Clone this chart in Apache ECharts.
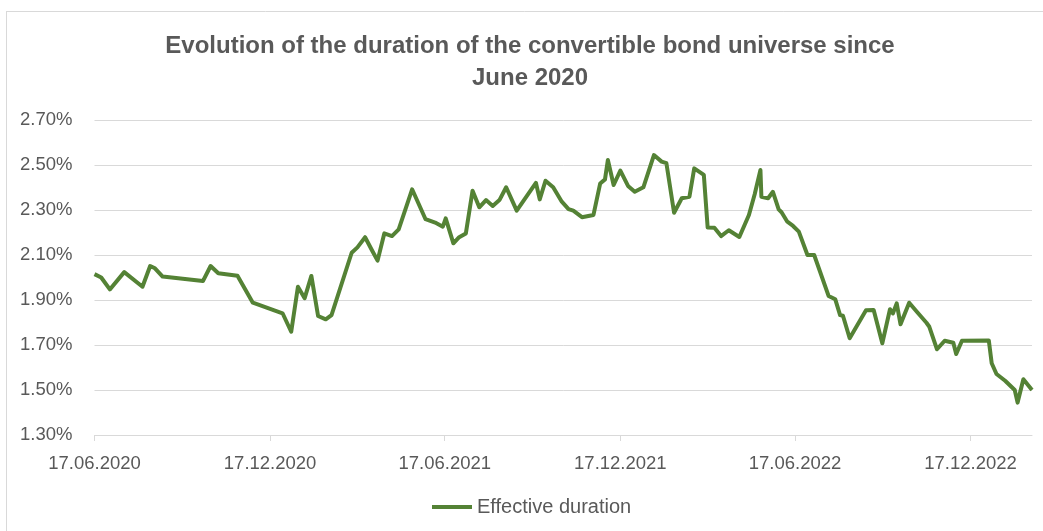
<!DOCTYPE html>
<html>
<head>
<meta charset="utf-8">
<script src="https://cdn.jsdelivr.net/npm/echarts@6/dist/echarts.min.js"></script>
<style>
html,body{margin:0;padding:0;background:#fff;}
#chart{width:1043px;height:531px;}
</style>
</head>
<body>
<div id="chart"></div>
<script>
var titleText = 'Evolution of the duration of the convertible bond universe since\nJune 2020';
var seriesName = 'Effective duration';
var tickDates = ['2020-06-17','2020-12-17','2021-06-17','2021-12-17','2022-06-17','2022-12-17'];
var dates = [
'2020-06-17','2020-06-24','2020-07-03','2020-07-18','2020-08-06','2020-08-14','2020-08-19','2020-08-27',
'2020-10-08','2020-10-16','2020-10-24','2020-11-13','2020-11-29','2020-12-30',
'2021-01-08','2021-01-15','2021-01-22','2021-01-29','2021-02-05','2021-02-13','2021-02-19',
'2021-03-12','2021-03-18','2021-03-26','2021-04-02','2021-04-08','2021-04-15','2021-04-23','2021-04-30',
'2021-05-14','2021-05-28','2021-06-07','2021-06-15','2021-06-18','2021-06-26','2021-07-02','2021-07-09',
'2021-07-16','2021-07-23','2021-07-30','2021-08-06','2021-08-13','2021-08-20','2021-08-31',
'2021-09-20','2021-09-24','2021-09-30','2021-10-08','2021-10-17','2021-10-24','2021-10-29',
'2021-11-07','2021-11-19','2021-11-26','2021-12-01','2021-12-04','2021-12-10','2021-12-17','2021-12-25',
'2022-01-01','2022-01-10','2022-01-21','2022-01-29','2022-02-03','2022-02-11','2022-02-19','2022-02-27',
'2022-03-04','2022-03-14','2022-03-18','2022-03-25','2022-04-01','2022-04-09','2022-04-20','2022-04-30',
'2022-05-06','2022-05-12','2022-05-13','2022-05-20','2022-05-25','2022-05-31','2022-06-03','2022-06-09',
'2022-06-15','2022-06-21','2022-06-30','2022-07-07','2022-07-22','2022-07-29','2022-08-03','2022-08-06',
'2022-08-13','2022-08-30','2022-09-07','2022-09-16','2022-09-24','2022-09-27','2022-10-01','2022-10-05',
'2022-10-14','2022-10-22','2022-11-01','2022-11-04','2022-11-12','2022-11-20','2022-11-29','2022-12-02',
'2022-12-08','2023-01-05','2023-01-08','2023-01-13','2023-01-22','2023-02-01','2023-02-04','2023-02-10','2023-02-19'
];
var durations = [
2.015,2.000,1.947,2.024,1.959,2.051,2.041,2.004,
1.984,2.051,2.019,2.008,1.888,1.841,
1.759,1.959,1.908,2.007,1.829,1.814,1.833,
2.110,2.134,2.179,2.122,2.075,2.196,2.184,2.214,
2.392,2.259,2.244,2.226,2.263,2.152,2.179,2.196,
2.386,2.312,2.344,2.318,2.344,2.401,2.297,
2.421,2.347,2.430,2.401,2.337,2.304,2.297,
2.268,2.278,2.418,2.436,2.522,2.411,2.475,2.407,
2.381,2.401,2.544,2.515,2.508,2.288,2.352,2.359,
2.485,2.456,2.222,2.221,2.184,2.210,2.180,2.278,
2.370,2.478,2.359,2.352,2.381,2.303,2.290,2.248,
2.229,2.204,2.100,2.100,1.918,1.903,1.833,1.830,
1.730,1.854,1.856,1.708,1.859,1.840,1.885,1.792,
1.888,1.848,1.799,1.781,1.681,1.719,1.710,1.660,
1.719,1.720,1.619,1.571,1.541,1.500,1.444,1.548,1.500
];

function parseLocal(s){var p=s.split('-');return new Date(+p[0],+p[1]-1,+p[2]).getTime();}
function fmtDate(v){var d=new Date(v);function z(n){return (n<10?'0':'')+n;}return z(d.getDate())+'.'+z(d.getMonth()+1)+'.'+d.getFullYear();}

var seriesData = dates.map(function(d,i){return [parseLocal(d), durations[i]];});
var tickVals = tickDates.map(parseLocal);

var chart = echarts.init(document.getElementById('chart'), null, {renderer:'canvas'});
var font = 'Liberation Sans, Arial, sans-serif';
chart.setOption({
  animation:false,
  backgroundColor:'#ffffff',
  title:{
    text:titleText,
    left:525, top:25, textAlign:'center',
    textStyle:{fontFamily:font,fontSize:24,fontWeight:'bold',color:'#595959',lineHeight:32}
  },
  graphic:[
    {type:'line',shape:{x1:6.5,y1:11,x2:6.5,y2:531},style:{stroke:'#d9d9d9',lineWidth:1},silent:true},
    {type:'line',shape:{x1:6.5,y1:11.5,x2:1043,y2:11.5},style:{stroke:'#d9d9d9',lineWidth:1},silent:true}
  ],
  legend:{
    data:[seriesName], top:492, left:427,
    itemWidth:40, itemHeight:4, itemGap:10,
    icon:'rect',
    textStyle:{fontFamily:font,fontSize:20,color:'#595959'}
  },
  grid:{left:94.5,right:11,top:120,bottom:96,containLabel:false},
  xAxis:{
    type:'value',
    min:tickVals[0],
    max:parseLocal(dates[dates.length-1]),
    axisLine:{show:true,lineStyle:{color:'#d9d9d9',width:1}},
    axisTick:{show:true,customValues:tickVals,length:6,lineStyle:{color:'#d9d9d9'}},
    axisLabel:{customValues:tickVals,formatter:function(v){return fmtDate(v);},fontFamily:font,fontSize:18.5,color:'#595959',margin:19,showMinLabel:true,showMaxLabel:true,hideOverlap:false},
    splitLine:{show:false}
  },
  yAxis:{
    type:'value', min:1.3, max:2.7, interval:0.2,
    axisLine:{show:false}, axisTick:{show:false},
    axisLabel:{formatter:function(v){return v.toFixed(2)+'%';},fontFamily:font,fontSize:18.5,color:'#595959',margin:22},
    splitLine:{lineStyle:{color:'#d9d9d9',width:1}}
  },
  series:[{
    name:seriesName, type:'line', data:seriesData,
    showSymbol:false, symbol:'none',
    lineStyle:{color:'#548235',width:4,join:'round'},
    itemStyle:{color:'#548235'}
  }]
});
</script>
</body>
</html>
